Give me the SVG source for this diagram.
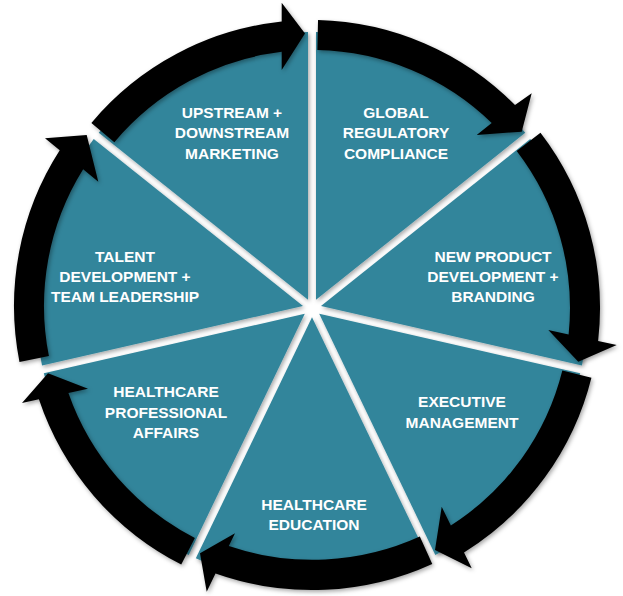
<svg xmlns="http://www.w3.org/2000/svg" width="623" height="596" viewBox="0 0 623 596">
<defs>
<filter id="sh" x="-10%" y="-10%" width="120%" height="120%">
<feDropShadow dx="1.5" dy="2" stdDeviation="2" flood-color="#000" flood-opacity="0.35"/>
</filter>
<style>
.wedge{fill:#32859B;filter:url(#sh)}
.arrow{fill:#000;filter:url(#sh)}
.lbl{font-family:"Liberation Sans",Arial,sans-serif;font-weight:bold;font-size:15.5px;fill:#fff;text-anchor:middle}
</style>
</defs>
<rect width="623" height="596" fill="#fff"/>
<g id="node-global">
<path class="wedge" d="M316,299.69 L316,32.03 A276,276 0 0 1 525.27,132.81 Z"/>
<text class="lbl" x="396" y="117.5">GLOBAL</text>
<text class="lbl" x="396" y="138">REGULATORY</text>
<text class="lbl" x="396" y="158.5">COMPLIANCE</text>
</g>
<g id="node-newproduct">
<path class="wedge" d="M320.99,305.95 L530.26,139.07 A276,276 0 0 1 581.94,365.53 Z"/>
<text class="lbl" x="493" y="261.5">NEW PRODUCT</text>
<text class="lbl" x="493" y="282">DEVELOPMENT +</text>
<text class="lbl" x="493" y="302">BRANDING</text>
</g>
<g id="node-executive">
<path class="wedge" d="M319.21,313.75 L580.16,373.32 A276,276 0 0 1 435.32,554.92 Z"/>
<text class="lbl" x="462" y="407">EXECUTIVE</text>
<text class="lbl" x="462" y="427.5">MANAGEMENT</text>
</g>
<g id="node-education">
<path class="wedge" d="M312,317.22 L428.16,558.37 A276,276 0 0 1 195.84,558.37 Z"/>
<text class="lbl" x="314" y="509.5">HEALTHCARE</text>
<text class="lbl" x="314" y="529.5">EDUCATION</text>
</g>
<g id="node-professional">
<path class="wedge" d="M304.79,313.75 L188.68,554.92 A276,276 0 0 1 43.84,373.32 Z"/>
<text class="lbl" x="166" y="397">HEALTHCARE</text>
<text class="lbl" x="166" y="417.5">PROFESSIONAL</text>
<text class="lbl" x="166" y="438">AFFAIRS</text>
</g>
<g id="node-talent">
<path class="wedge" d="M303.01,305.95 L42.06,365.53 A276,276 0 0 1 93.74,139.07 Z"/>
<text class="lbl" x="125" y="261.5">TALENT</text>
<text class="lbl" x="125" y="282">DEVELOPMENT +</text>
<text class="lbl" x="125" y="302">TEAM LEADERSHIP</text>
</g>
<g id="node-upstream">
<path class="wedge" d="M308,299.69 L98.73,132.81 A276,276 0 0 1 308,32.03 Z"/>
<text class="lbl" x="232" y="117.5">UPSTREAM +</text>
<text class="lbl" x="232" y="138">DOWNSTREAM</text>
<text class="lbl" x="232" y="158.5">MARKETING</text>
</g>
<g id="connectors">
<path class="arrow" d="M91.38,122.88 A288,288 0 0 1 281.7,21.6 L281.7,2.7 L305,33.5 L281.7,70 L281.7,51.8 A258,258 0 0 0 114.36,142.16 Z"/>
<path class="arrow" d="M318.03,20.06 A288,288 0 0 1 515,105 L531.7,93.3 L521.7,131.7 L476.7,135 L491.7,123 A258,258 0 0 0 317.4,50.06 Z"/>
<path class="arrow" d="M540.49,132.68 A288,288 0 0 1 598.12,340.92 L616.7,345 L578.3,361.7 L548.3,330 L568.62,334.46 A258,258 0 0 0 516.68,150.94 Z"/>
<path class="arrow" d="M591.45,377.67 A288,288 0 0 1 464.03,552.55 L471.7,568.3 L435,550 L441.7,506.7 L450.85,525.49 A258,258 0 0 0 562.34,370.42 Z"/>
<path class="arrow" d="M432.26,563.89 A290,290 0 0 1 215.51,573.53 L206.7,591.7 L200,553.3 L235,533.3 L228.81,546.08 A260,260 0 0 0 419.82,536.59 Z"/>
<path class="arrow" d="M181.25,564.61 A288,288 0 0 1 38.91,399.34 L22,403 L48,373.3 L88,388.7 L68.42,392.94 A258,258 0 0 0 194.87,537.88 Z"/>
<path class="arrow" d="M19.48,361.94 A288,288 0 0 1 59.73,150.3 L45,138.3 L86.7,135 L98.3,181.7 L83.15,169.36 A258,258 0 0 0 48.91,356.11 Z"/>
</g>
</svg>
